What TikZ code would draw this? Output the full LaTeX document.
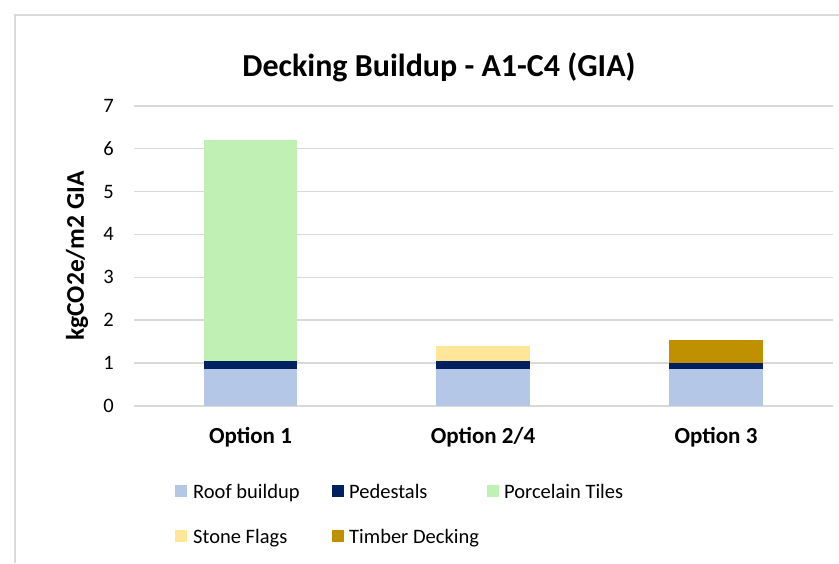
\documentclass[tikz,border=0pt]{standalone}
\usepackage{fontspec}
\setmainfont{Carlito}
\definecolor{roofc}{HTML}{B4C7E7}
\definecolor{pedc}{HTML}{002060}
\definecolor{porcc}{HTML}{C0F0B4}
\definecolor{stonec}{HTML}{FFE699}
\definecolor{timberc}{HTML}{BF9000}
\definecolor{gridc}{HTML}{D9D9D9}
\begin{document}
\begin{tikzpicture}[x=1pt,y=-1pt,
  gridline/.style={draw=gridc,line width=1.6pt},
  ticklab/.style={anchor=east,inner sep=0pt,font=\fontsize{20.5}{24}\selectfont},
  catlab/.style={anchor=base,inner sep=0pt,font=\fontsize{23}{27}\selectfont\bfseries},
  leglab/.style={anchor=base west,inner sep=0pt,font=\fontsize{20.5}{24}\selectfont},
  legkey/.style={minimum width=12pt,minimum height=12pt,inner sep=0pt,anchor=center}]
\useasboundingbox (0,0) rectangle (839,563);
% chart frame (only the top and left edges fall inside the page)
\draw[draw=gridc,line width=2pt] (15,563) -- (15,15) -- (839,15);
% title
\node[anchor=base,inner sep=0pt,font=\fontsize{32}{38}\selectfont\bfseries] (title) at (439,76) {Decking Buildup - A1-C4 (GIA)};
% gridlines and value labels
\foreach \v in {0,...,7}{
  \pgfmathsetmacro{\yy}{406-42.9*\v}
  \draw[gridline] (134,\yy) -- (833,\yy);
  \node[ticklab] (tick\v) at (114,\yy) {\v};
}
% axis title
\node[rotate=90,inner sep=0pt,font=\fontsize{25.5}{30}\selectfont\bfseries] (ytitle) at (77,256) {kgCO2e/m2 GIA};
% Option 1
\fill[roofc]  (204,406) rectangle (297,369.3);
\fill[pedc]   (204,369.3) rectangle (297,361);
\fill[porcc]  (204,361) rectangle (297,140);
% Option 2/4
\fill[roofc]  (436,406) rectangle (530,369.3);
\fill[pedc]   (436,369.3) rectangle (530,361);
\fill[stonec] (436,361) rectangle (530,346);
% Option 3
\fill[roofc]  (669,406) rectangle (763,369.3);
\fill[pedc]   (669,369.3) rectangle (763,362.7);
\fill[timberc](669,362.7) rectangle (763,340);
% category labels
\node[catlab] (cat1) at (250.5,443) {Option 1};
\node[catlab] (cat2) at (483,443) {Option 2/4};
\node[catlab] (cat3) at (716,443) {Option 3};
% legend
\node[legkey,fill=roofc]   (k1) at (181,491) {};
\node[leglab] (l1) at (193,498) {Roof buildup};
\node[legkey,fill=pedc]    (k2) at (338,491) {};
\node[leglab] (l2) at (349,498) {Pedestals};
\node[legkey,fill=porcc]   (k3) at (492.5,491) {};
\node[leglab] (l3) at (504,498) {Porcelain Tiles};
\node[legkey,fill=stonec]  (k4) at (181,535.5) {};
\node[leglab] (l4) at (193,543) {Stone Flags};
\node[legkey,fill=timberc] (k5) at (338,535.5) {};
\node[leglab] (l5) at (349,543) {Timber Decking};
\end{tikzpicture}
\end{document}
